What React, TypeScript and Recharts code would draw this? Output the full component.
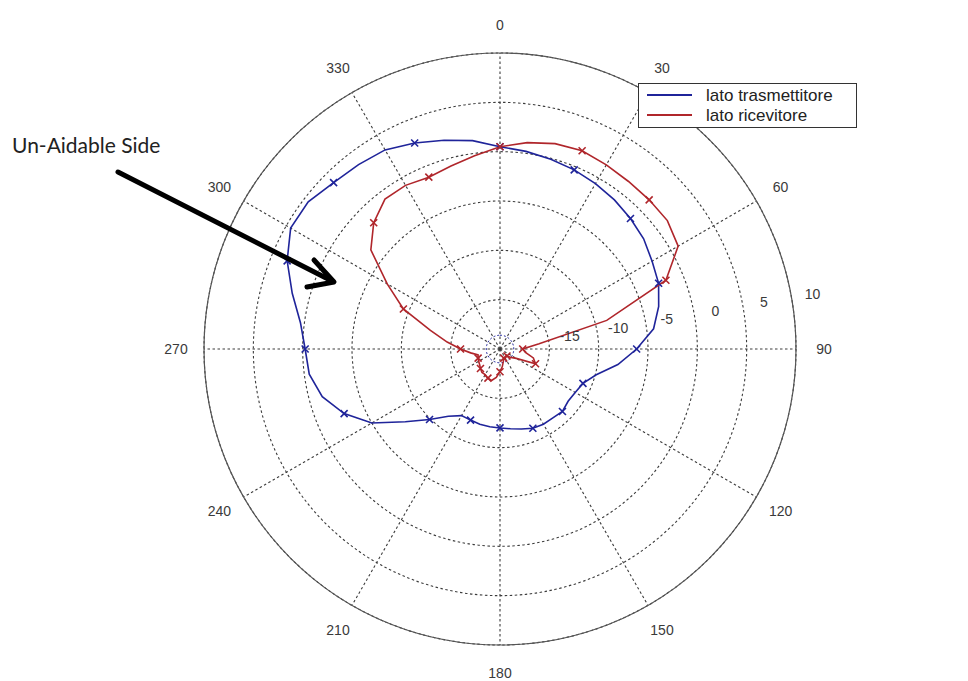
import React from "react";
import {
  RadarChart,
  Radar,
  PolarGrid,
  PolarAngleAxis,
  PolarRadiusAxis,
  Legend,
} from "recharts";

// angles in degrees, 0 at the top, clockwise (7.5 deg steps)
const angles = [
  0, 7.5, 15, 22.5, 30, 37.5, 45, 52.5, 60, 67.5, 75, 82.5,
  90, 97.5, 105, 112.5, 120, 127.5, 135, 142.5, 150, 157.5, 165, 172.5,
  180, 187.5, 195, 202.5, 210, 217.5, 225, 232.5, 240, 247.5, 255, 262.5,
  270, 277.5, 285, 292.5, 300, 307.5, 315, 322.5, 330, 337.5, 345, 352.5,
];

// dB
const trasmettitore = [
  0.5, 0.2, -0.1, -0.35, -0.65, -0.95, -1.3, -1.65, -2.2, -2.6, -3.35, -4.3,
  -6.15, -7.95, -9.9, -10.9, -11.2, -11.3, -11.05, -11.2, -11.2, -11.3, -11.6, -11.85,
  -12.0, -12.05, -12.1, -12.2, -12.2, -11.4, -9.9, -7.9, -5.0, -2.9, -1.35, -0.5,
  -0.25, 0.4, 1.8, 3.35, 4.5, 4.5, 3.85, 3.55, 3.3, 2.6, 1.9, 1.3,
];

const ricevitore = [
  0.5, 1.1, 1.55, 1.75, 1.55, 1.4, 1.38, 1.38, 0.85, -1.8, -8.8, -16.0,
  -17.7, -17.4, -16.5, -16.1, -18.1, -18.6, -19.0, -19.0, -19.0, -19.0, -18.7, -18.2,
  -17.7, -17.1, -16.7, -16.8, -17.0, -17.0, -17.2, -17.4, -17.5, -17.6, -17.7, -17.0,
  -16.0, -14.6, -12.7, -9.4, -6.8, -3.5, -1.9, -0.85, -0.85, -1.15, -0.8, -0.25,
];

// small dotted blue trace around the centre
const centro = [
  -18.6, -18.6, -18.6, -18.6, -18.6, -18.6, -18.6, -18.6, -18.6, -18.6, -18.6, -18.6,
  -18.6, -18.6, -18.6, -18.6, -18.6, -18.6, -18.6, -18.6, -18.6, -18.6, -18.6, -18.6,
  -18.6, -18.6, -18.6, -18.6, -18.6, -18.6, -18.6, -18.6, -18.6, -18.6, -18.6, -18.6,
  -18.6, -18.6, -18.6, -18.6, -18.6, -18.6, -18.6, -18.6, -18.6, -18.6, -18.6, -18.6,
];

const angleTicks = [0, 30, 60, 90, 120, 150, 180, 210, 240, 270, 300, 330];
const radiusTicks = [-20, -15, -10, -5, 0, 5, 10];
const legendOrder = ["lato trasmettitore", "lato ricevitore"];

const data = angles.map((a, i) => ({
  angle: a,
  tx: trasmettitore[i],
  rx: ricevitore[i],
  c: centro[i],
}));

const BLUE = "#1f249a";
const RED = "#b0262b";
const FONT = "'Liberation Sans', Arial, sans-serif";

const crossDot = (color: string) => (props: any) => {
  const { cx, cy, index } = props;
  if (index % 3 !== 0) return <g key={`n${index}`} />;
  const s = 3.5;
  return (
    <path
      key={`x${index}`}
      d={`M${cx - s},${cy - s}L${cx + s},${cy + s}M${cx - s},${cy + s}L${cx + s},${cy - s}`}
      stroke={color}
      strokeWidth={1.6}
      fill="none"
    />
  );
};

const AngleTick = (props: any) => {
  const { x, y, payload } = props;
  if (payload.value % 30 !== 0) return <g />;
  return (
    <text x={x} y={y} textAnchor="middle" dominantBaseline="central" fontSize={14} fill="#3a3a3a" fontFamily={FONT}>
      {payload.value}
    </text>
  );
};

const RadiusTick = (props: any) => {
  const { x, y, payload } = props;
  if (payload.value === -20) return <g />;
  return (
    <text x={x + 21} y={y - 4} textAnchor="middle" dominantBaseline="central" fontSize={14} fill="#3a3a3a" fontFamily={FONT}>
      {payload.value}
    </text>
  );
};

const renderLegend = (props: any) => {
  const items = (props.payload || [])
    .filter((p: any) => p.type !== "none")
    .sort((a: any, b: any) => legendOrder.indexOf(a.value) - legendOrder.indexOf(b.value));
  return (
    <svg width={220} height={46}>
      <rect x={0.5} y={0.5} width={218} height={44} fill="#fff" stroke="#333" />
      {items.map((p: any, i: number) => (
        <g key={p.value}>
          <line x1={9} x2={54} y1={12 + 20 * i} y2={12 + 20 * i} stroke={p.color} strokeWidth={2} />
          <text x={68} y={12 + 20 * i} dominantBaseline="central" fontSize={17} fill="#222" fontFamily={FONT}>
            {p.value}
          </text>
        </g>
      ))}
    </svg>
  );
};

export default function App() {
  return (
    <div style={{ position: "absolute", left: 0, top: 0, width: 968, height: 681, background: "#fff" }}>
      <RadarChart
        width={968}
        height={681}
        data={data}
        cx={500}
        cy={349}
        outerRadius={296}
        margin={{ top: 0, right: 0, bottom: 0, left: 0 }}
      >
        <PolarGrid
          gridType="circle"
          polarAngles={angleTicks.map((a) => 90 - a)}
          stroke="#3c3c3c"
          strokeWidth={1.1}
          strokeDasharray="2.5 2.5"
        />
        <PolarAngleAxis
          dataKey="angle"
          axisLineType="circle"
          axisLine={{ stroke: "#555", strokeWidth: 1.2, strokeDasharray: "none" }}
          tickLine={false}
          tickSize={28}
          tick={<AngleTick />}
        />
        <PolarRadiusAxis
          type="number"
          domain={[-20, 10]}
          ticks={radiusTicks}
          angle={10}
          axisLine={false}
          tickLine={false}
          tick={<RadiusTick />}
        />
        <Radar
          name="centro"
          dataKey="c"
          stroke={BLUE}
          strokeDasharray="2 2"
          fill="none"
          fillOpacity={0}
          legendType="none"
          isAnimationActive={false}
        />
        <Radar
          name="lato trasmettitore"
          dataKey="tx"
          stroke={BLUE}
          strokeWidth={1.6}
          fill="none"
          fillOpacity={0}
          dot={crossDot(BLUE)}
          legendType="plainline"
          isAnimationActive={false}
        />
        <Radar
          name="lato ricevitore"
          dataKey="rx"
          stroke={RED}
          strokeWidth={1.6}
          fill="none"
          fillOpacity={0}
          dot={crossDot(RED)}
          legendType="plainline"
          isAnimationActive={false}
        />
        <Legend
          layout="vertical"
          align="center"
          verticalAlign="middle"
          content={renderLegend}
          wrapperStyle={{ left: 638, top: 83, width: 220, height: 46 }}
        />
      </RadarChart>
      <svg width={968} height={681} style={{ position: "absolute", left: 0, top: 0, pointerEvents: "none" }}>
        <text x={12} y={153} fontSize={21} fontFamily="Lato, 'Open Sans', sans-serif" fill="#222">
          Un-Aidable Side
        </text>
        <path d="M118,172 L330,280" stroke="#000" strokeWidth={5} strokeLinecap="round" />
        <path d="M314,260 L334,282 L307,287" stroke="#000" strokeWidth={5} fill="none" strokeLinecap="round" strokeLinejoin="round" />
      </svg>
    </div>
  );
}
